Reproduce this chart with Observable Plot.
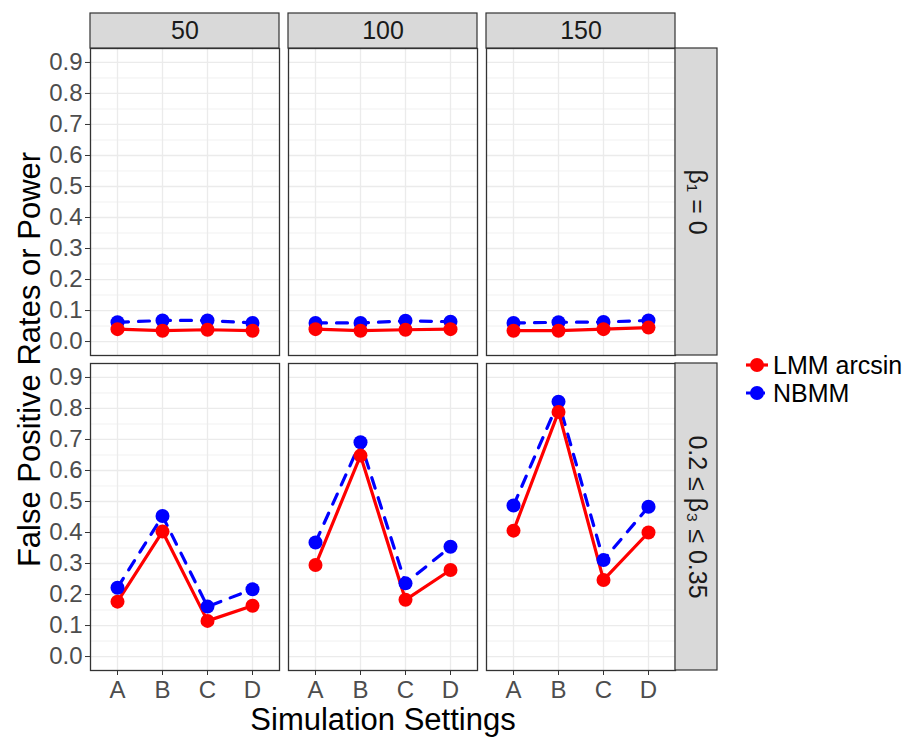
<!DOCTYPE html>
<html>
<head>
<meta charset="utf-8">
<script src="https://cdn.jsdelivr.net/npm/d3@7"></script>
<script src="https://cdn.jsdelivr.net/npm/@observablehq/plot@0.6"></script>
<style>
  body { margin: 0; background: #fff; font-family: "Liberation Sans", Arial, sans-serif; }
  #wrap { position: relative; width: 910px; height: 737px; }
  #legend { position: absolute; left: 744px; top: 351px; font-size: 25px; color: #000; }
  #legend .row { display: flex; align-items: center; height: 28px; }
  #legend svg { margin-right: 3px; }
</style>
</head>
<body>
<div id="wrap"><div id="legend"></div></div>
<script>
// ---- data ----
const sampleSizes = [50, 100, 150];
const settings = ["A", "B", "C", "D"];
const rowLabels = ["β₁ = 0", "0.2 ≤ β₃ ≤ 0.35"];
const methods = ["LMM arcsin", "NBMM"];
const methodColors = ["#FF0000", "#0000FF"];

// row 1: beta1 = 0 (false positive rates)
const lmmNull50  = [0.040, 0.035, 0.038, 0.035];
const lmmNull100 = [0.040, 0.035, 0.038, 0.040];
const lmmNull150 = [0.035, 0.035, 0.040, 0.045];
const nbmmNull50  = [0.062, 0.068, 0.068, 0.060];
const nbmmNull100 = [0.060, 0.060, 0.067, 0.064];
const nbmmNull150 = [0.060, 0.062, 0.063, 0.068];

// row 2: 0.2 <= beta3 <= 0.35 (power)
const lmmPow50  = [0.177, 0.403, 0.115, 0.164];
const lmmPow100 = [0.295, 0.648, 0.183, 0.279];
const lmmPow150 = [0.406, 0.789, 0.247, 0.400];
const nbmmPow50  = [0.222, 0.453, 0.161, 0.217];
const nbmmPow100 = [0.368, 0.691, 0.236, 0.354];
const nbmmPow150 = [0.487, 0.822, 0.311, 0.483];

const yTicks = [0.0, 0.1, 0.2, 0.3, 0.4, 0.5, 0.6, 0.7, 0.8, 0.9];
const yMinor = [0.05, 0.15, 0.25, 0.35, 0.45, 0.55, 0.65, 0.75, 0.85];

// ---- build long table ----
const series = [
  [methods[0], rowLabels[0], [lmmNull50, lmmNull100, lmmNull150]],
  [methods[1], rowLabels[0], [nbmmNull50, nbmmNull100, nbmmNull150]],
  [methods[0], rowLabels[1], [lmmPow50, lmmPow100, lmmPow150]],
  [methods[1], rowLabels[1], [nbmmPow50, nbmmPow100, nbmmPow150]]
];
const data = [];
for (const [method, row, arrs] of series) {
  arrs.forEach((arr, k) => arr.forEach((v, i) => data.push({method, row, n: sampleSizes[k], setting: settings[i], value: v})));
}
const lmm = data.filter(d => d.method === methods[0]);
const nbmm = data.filter(d => d.method === methods[1]);

const topStripData = sampleSizes.map(n => ({n, row: rowLabels[0], label: String(n)}));
const rightStripData = rowLabels.map(r => ({n: sampleSizes[sampleSizes.length - 1], row: r, label: r}));

const SVGNS = "http://www.w3.org/2000/svg";
const STRIP = 35, STRIPW = 42;
function stripRect(x, y, w, h) {
  const r = document.createElementNS(SVGNS, "rect");
  r.setAttribute("x", x);
  r.setAttribute("y", y);
  r.setAttribute("width", w);
  r.setAttribute("height", h);
  r.setAttribute("fill", "#D9D9D9");
  r.setAttribute("stroke", "#333333");
  r.setAttribute("stroke-width", 1.2);
  return r;
}
function stripRenderTop(index, scales, values, dim, context, next) {
  const g = next(index, scales, values, dim, context);
  const wrap = document.createElementNS(SVGNS, "g");
  if (index.length) {
    const {marginTop, marginLeft, marginRight, width} = dim;
    wrap.appendChild(stripRect(marginLeft, marginTop - STRIP, width - marginLeft - marginRight, STRIP));
  }
  wrap.appendChild(g);
  return wrap;
}
function stripRenderRight(index, scales, values, dim, context, next) {
  const g = next(index, scales, values, dim, context);
  const wrap = document.createElementNS(SVGNS, "g");
  if (index.length) {
    const {marginTop, marginBottom, marginRight, width, height} = dim;
    wrap.appendChild(stripRect(width - marginRight, marginTop, STRIPW, height - marginTop - marginBottom));
  }
  wrap.appendChild(g);
  return wrap;
}

const W = 910, H = 737;
const mL = 90, mT = 48, mR = 234, mB = 67;
const gapX = 9, gapY = 8;
const stepX = ((W - mL - mR) + gapX) / 3;
const stepY = ((H - mT - mB) + gapY) / 2;

const chart = Plot.plot({
  width: W, height: H,
  marginLeft: mL, marginTop: mT, marginRight: mR, marginBottom: mB,
  style: {fontFamily: "'Liberation Sans', Arial, sans-serif", background: "#fff"},
  fx: {domain: sampleSizes, axis: null, paddingInner: gapX / stepX, paddingOuter: 0},
  fy: {domain: rowLabels, axis: null, paddingInner: gapY / stepY, paddingOuter: 0},
  x: {type: "point", domain: settings, padding: 0.6},
  y: {domain: [-0.045, 0.945]},
  marks: [
    Plot.gridY(yMinor, {stroke: "#EBEBEB", strokeOpacity: 1, strokeWidth: 0.7}),
    Plot.gridY(yTicks, {stroke: "#EBEBEB", strokeOpacity: 1, strokeWidth: 1.3}),
    Plot.gridX(settings, {stroke: "#EBEBEB", strokeOpacity: 1, strokeWidth: 1.3}),
    Plot.frame({stroke: "#333333", strokeWidth: 1.3}),
    Plot.axisY(yTicks, {tickSize: 5, tickPadding: 3, tickFormat: d3.format(".1f"), fontSize: 24,
      fill: "#4D4D4D", stroke: "#333333", label: null}),
    Plot.axisX(settings, {tickSize: 5, tickPadding: 5, fontSize: 24,
      fill: "#4D4D4D", stroke: "#333333", label: null}),
    Plot.line(nbmm, {fx: "n", fy: "row", x: "setting", y: "value", z: "method",
      stroke: methodColors[1], strokeWidth: 3.2, strokeDasharray: "11,10"}),
    Plot.line(lmm, {fx: "n", fy: "row", x: "setting", y: "value", z: "method",
      stroke: methodColors[0], strokeWidth: 3.2}),
    Plot.dot(nbmm, {fx: "n", fy: "row", x: "setting", y: "value", r: 7, fill: methodColors[1]}),
    Plot.dot(lmm, {fx: "n", fy: "row", x: "setting", y: "value", r: 7, fill: methodColors[0]}),
    Plot.text(topStripData, {fx: "n", fy: "row", text: "label", frameAnchor: "top", dy: -STRIP / 2,
      textAnchor: "middle", lineAnchor: "middle", fontSize: 25, fill: "#1A1A1A", render: stripRenderTop}),
    Plot.text(rightStripData, {fx: "n", fy: "row", text: "label", frameAnchor: "right", dx: STRIPW / 2,
      rotate: 90, textAnchor: "middle", lineAnchor: "middle", fontSize: 25, fill: "#1A1A1A", render: stripRenderRight}),
    Plot.text(["False Positive Rates or Power"], {facet: "super", frameAnchor: "left", dx: -60,
      rotate: -90, textAnchor: "middle", lineAnchor: "middle", fontSize: 31, fill: "#000"}),
    Plot.text(["Simulation Settings"], {facet: "super", frameAnchor: "bottom", dy: 50,
      textAnchor: "middle", lineAnchor: "middle", fontSize: 31, fill: "#000"})
  ]
});
document.getElementById("wrap").prepend(chart);

// legend
const legend = document.getElementById("legend");
methods.forEach((m, i) => {
  const row = document.createElement("div");
  row.className = "row";
  row.innerHTML = `<svg width="26" height="26"><line x1="2" x2="24" y1="13" y2="13" stroke="${methodColors[i]}" stroke-width="3.2"${i === 1 ? ' stroke-dasharray="8,3"' : ""}/><circle cx="13" cy="13" r="7" fill="${methodColors[i]}"/></svg><span>${m}</span>`;
  legend.appendChild(row);
});
</script>
</body>
</html>
